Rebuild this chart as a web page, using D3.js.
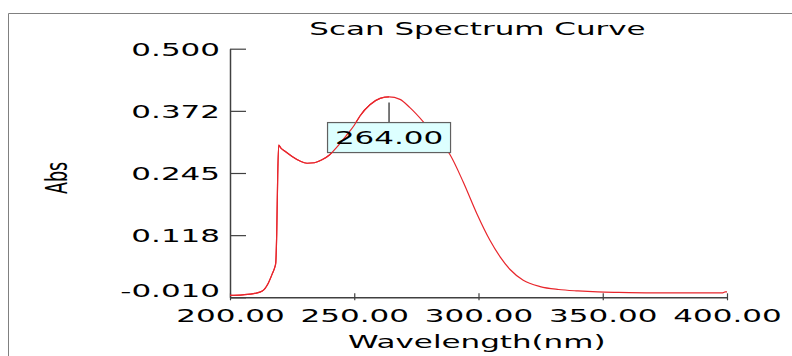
<!DOCTYPE html>
<html>
<head>
<meta charset="utf-8">
<script src="https://cdn.jsdelivr.net/npm/d3@7"></script>
<style>
  html, body { margin: 0; padding: 0; background: #fff; }
  svg { display: block; }
  text { font-family: "DejaVu Sans", Verdana, sans-serif; fill: #000; }
</style>
</head>
<body>
<svg id="chart" width="792" height="356"></svg>
<script>
// wavelength (nm) / absorbance
const wavelength = [200, 205, 210, 213, 215.4, 217, 218.1, 218.4, 218.8, 219.2, 219.6, 220.5,
  222, 225, 228, 231, 234, 237, 240, 243, 247, 250, 252.3, 256.3, 260.4, 264,
  268.4, 272.4, 277.8, 283, 288.5, 293.9, 299.3, 304.6, 308.7, 312.7,
  318, 324.8, 332.2, 340, 348, 356, 370, 390, 398, 399.3, 400];
const absorbance = [-0.006, -0.005, -0.002, 0.003, 0.019, 0.038, 0.053, 0.060, 0.121, 0.240, 0.302, 0.296,
  0.290, 0.279, 0.270, 0.265, 0.266, 0.272, 0.282, 0.298, 0.323, 0.343, 0.362, 0.385, 0.398, 0.401,
  0.396, 0.379, 0.350, 0.318, 0.283, 0.226, 0.162, 0.107, 0.073, 0.047,
  0.025, 0.012, 0.006, 0.003, 0.001, 0.000, -0.001, -0.001, -0.001, 0.001, 0.001];

const xTicks = [200, 250, 300, 350, 400];
const xTickLabels = ["200.00", "250.00", "300.00", "350.00", "400.00"];
const yTicks = [-0.010, 0.1175, 0.245, 0.3725, 0.500];
const yTickLabels = ["-0.010", "0.118", "0.245", "0.372", "0.500"];
const peakWavelength = 264;
const peakLabel = "264.00";

const title = "Scan Spectrum Curve";
const xTitle = "Wavelength(nm)";
const yTitle = "Abs";

// the original picture is stretched sideways, text too
const sx = 1.77;
const fontSize = 17.5;

const svg = d3.select("#chart");
const plotLeft = 230, plotRight = 727, plotTop = 48.7, plotBottom = 297.3;

const x = d3.scaleLinear().domain([200, 400]).range([plotLeft, plotRight]);
const y = d3.scaleLinear().domain([-0.010, 0.500]).range([plotBottom, plotTop]);

// outer frame
svg.append("path")
  .attr("d", "M8.5,360V13.5H792")
  .attr("fill", "none")
  .attr("stroke", "#808080")
  .attr("stroke-width", 1);

// title
svg.append("text")
  .attr("transform", `translate(477.5,35) scale(${sx},1)`)
  .attr("text-anchor", "middle")
  .style("font-size", fontSize + "px")
  .text(title);

// X axis
const xAxis = svg.append("g")
  .attr("transform", `translate(0,${plotBottom})`)
  .call(d3.axisBottom(x).tickValues(xTicks).tickSizeInner(-4).tickSizeOuter(0).tickFormat(""));
xAxis.select(".domain").attr("stroke", "#404040").attr("stroke-width", 1.5);
xAxis.selectAll(".tick line").attr("y2", 3).attr("y1", -4).attr("stroke", "#404040").attr("stroke-width", 1.2);
xAxis.selectAll(".tick text").remove();
xAxis.selectAll(".tick").append("text")
  .attr("transform", `translate(0,24.2) scale(${sx},1)`)
  .attr("text-anchor", "middle")
  .style("font-size", fontSize + "px")
  .text((d, i) => xTickLabels[i]);

// Y axis
const yAxis = svg.append("g")
  .attr("transform", `translate(${plotLeft},0)`)
  .call(d3.axisRight(y).tickValues(yTicks).tickSizeInner(16).tickSizeOuter(0).tickFormat(""));
yAxis.select(".domain").attr("stroke", "#404040").attr("stroke-width", 1.5);
yAxis.selectAll(".tick line").attr("stroke", "#404040").attr("stroke-width", 1.2);
yAxis.selectAll(".tick text").remove();
yAxis.selectAll(".tick").append("text")
  .attr("transform", (d, i) => `translate(-10,${i === 0 ? -0.8 : 6.5}) scale(${sx},1)`)
  .attr("text-anchor", "end")
  .style("font-size", fontSize + "px")
  .text((d, i) => yTickLabels[i]);

// axis titles
svg.append("text")
  .attr("transform", `translate(476.7,348) scale(${sx},1)`)
  .attr("text-anchor", "middle")
  .style("font-size", fontSize + "px")
  .text(xTitle);

svg.append("text")
  .attr("transform", `translate(67,178) scale(${sx},1) rotate(-90)`)
  .attr("text-anchor", "middle")
  .style("font-size", fontSize + "px")
  .text(yTitle);

// spectrum
const data = wavelength.map((w, i) => [w, absorbance[i]]);
const line = d3.line().curve(d3.curveMonotoneX).x(d => x(d[0])).y(d => y(d[1]));

svg.append("path")
  .datum(data)
  .attr("fill", "none")
  .attr("stroke", "#e8262c")
  .attr("stroke-width", 1.2)
  .attr("d", line);

// peak marker
const px = x(peakWavelength);
const py = y(absorbance[wavelength.indexOf(peakWavelength)]);
const boxW = 123, boxH = 30, boxTop = py + 25.6;

svg.append("line")
  .attr("x1", px).attr("x2", px)
  .attr("y1", py + 5.5).attr("y2", boxTop)
  .attr("stroke", "#202020")
  .attr("stroke-width", 1.2);

svg.append("rect")
  .attr("x", px - boxW / 2)
  .attr("y", boxTop)
  .attr("width", boxW)
  .attr("height", boxH)
  .attr("fill", "#ddffff")
  .attr("stroke", "#606060")
  .attr("stroke-width", 1.2);

// left part of the curve shows over the label box
svg.append("clipPath").attr("id", "leftHalf")
  .append("rect")
  .attr("x", 0).attr("y", 0)
  .attr("width", px).attr("height", 356);

svg.append("path")
  .datum(data)
  .attr("clip-path", "url(#leftHalf)")
  .attr("fill", "none")
  .attr("stroke", "#e8262c")
  .attr("stroke-width", 1.2)
  .attr("d", line);

svg.append("text")
  .attr("transform", `translate(${px},${boxTop + 21.7}) scale(${sx},1)`)
  .attr("text-anchor", "middle")
  .style("font-size", fontSize + "px")
  .text(peakLabel);
</script>
</body>
</html>
